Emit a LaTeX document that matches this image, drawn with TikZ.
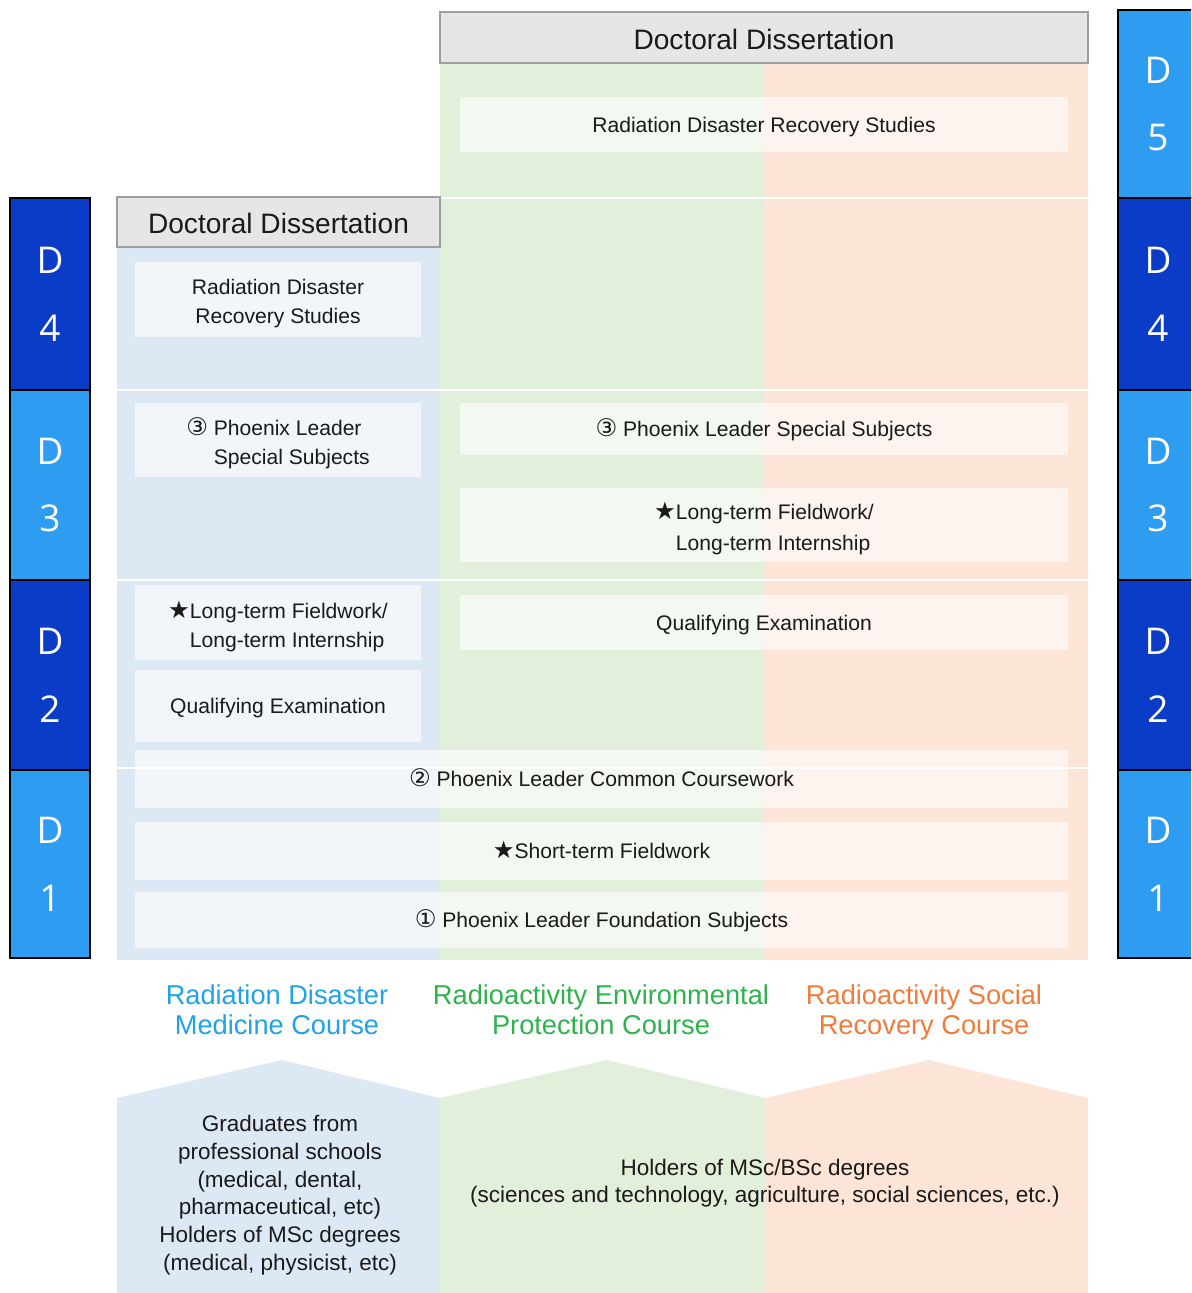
\documentclass[tikz,border=0pt]{standalone}
\usepackage{fontspec}
\setmainfont{Liberation Sans}
\newfontfamily\yearfont{Open Sans}
\newfontfamily\symfont[Scale=1.15]{DejaVu Sans}
\definecolor{colblue}{HTML}{DDE8F5}
\definecolor{colgreen}{HTML}{E2EFDA}
\definecolor{colorange}{HTML}{FCE4D6}
\definecolor{yearlight}{HTML}{2E9CF0}
\definecolor{yeardark}{HTML}{0B3CC8}
\definecolor{hdrfill}{HTML}{E6E6E6}
\definecolor{hdrline}{HTML}{9E9E9E}
\definecolor{txt}{HTML}{1A1A1A}
\definecolor{cblue}{HTML}{1FA2E6}
\definecolor{cgreen}{HTML}{2DB24C}
\definecolor{corange}{HTML}{F07B3A}
\newcommand{\cnA}{{\symfont ①}}
\newcommand{\cnB}{{\symfont ②}}
\newcommand{\cnC}{{\symfont ③}}
\newcommand{\bstar}{{\symfont ★}}
\begin{document}
\begin{tikzpicture}[x=0.02cm,y=-0.02cm,
    every node/.style={inner sep=0pt, text=txt},
    header/.style={fill=hdrfill, draw=hdrline, line width=0.7pt},
    hdrtext/.style={yshift=-3pt, font=\fontsize{16}{19}\selectfont, execute at begin node=\strut},
    box/.style={fill=white, fill opacity=0.62},
    boxtext/.style={text opacity=1, align=center, yshift=-1pt, font=\fontsize{12}{16.5}\selectfont,
        execute at begin node=\strut, execute at end node=\strut},
    boxtwo/.style={boxtext, yshift=-2.3pt},
    sepline/.style={draw=white, line width=0.8pt},
    yearbox/.style={draw=black, line width=0.6pt},
    yeartext/.style={text=white, align=center, font=\yearfont\fontsize{21}{38.6}\selectfont},
    course/.style={align=center, font=\fontsize{15.5}{17}\selectfont,
        execute at begin node=\strut, execute at end node=\strut},
    srctext/.style={align=center, font=\fontsize{12.8}{15.9}\selectfont,
        execute at begin node=\strut, execute at end node=\strut}]
    \clip (0,0) rectangle (1191,1293);
    % course columns
    \fill [colblue] (117,247) rectangle (440,960);
    \fill [colgreen] (440,63) rectangle (763,960);
    \fill [colorange] (763,63) rectangle (1088,960);
    \draw [sepline] (440,198) -- (1088,198);
    \foreach \y in {390,580,768}
        \draw [sepline] (117,\y) -- (1088,\y);
    \draw [header] (440,12) rectangle node [hdrtext] (dissR) {Doctoral Dissertation} (1088,63);
    \draw [header] (117,197) rectangle node [hdrtext] (dissL) {Doctoral Dissertation} (440,247);
    % subject boxes
    \fill [box] (460,97) rectangle node [boxtext] (rdrsR) {Radiation Disaster Recovery Studies} (1068,152);
    \fill [box] (135,262) rectangle node [boxtwo] (rdrsL) {Radiation Disaster\\Recovery Studies} (421,337);
    \fill [box] (135,403) rectangle node [boxtwo, align=left] (specL) {\cnC{} Phoenix Leader\\\hphantom{\cnC{}} Special Subjects} (421,477);
    \fill [box] (460,403) rectangle node [boxtext] (specR) {\cnC{} Phoenix Leader Special Subjects} (1068,455);
    \fill [box] (460,488) rectangle node [boxtwo, align=left, font=\fontsize{12}{18}\selectfont] (ltfR) {\bstar Long-term Fieldwork/\\\hphantom{\bstar}Long-term Internship} (1068,562);
    \fill [box] (135,585) rectangle node [boxtwo, align=left] (ltfL) {\bstar Long-term Fieldwork/\\\hphantom{\bstar}Long-term Internship} (421,660);
    \fill [box] (135,670) rectangle node [boxtext] (qualL) {Qualifying Examination} (421,742);
    \fill [box] (460,595) rectangle node [boxtext] (qualR) {Qualifying Examination} (1068,650);
    \fill [box] (135,750) rectangle node [boxtext] (common) {\cnB{} Phoenix Leader Common Coursework} (1068,808);
    \fill [box] (135,822) rectangle node [boxtext] (short) {\bstar Short-term Fieldwork} (1068,880);
    \fill [box] (135,892) rectangle node [boxtext] (found) {\cnA{} Phoenix Leader Foundation Subjects} (1068,948);
    % year scales
    \foreach \n/\ya/\yb/\c in {4/198/390/yeardark, 3/390/580/yearlight, 2/580/770/yeardark, 1/770/958/yearlight}
        \draw [yearbox, fill=\c] (10,\ya) rectangle node [yeartext] (yL\n) {D\\\n} (90,\yb);
    \foreach \n/\ya/\yb/\c in {5/10/198/yearlight, 4/198/390/yeardark, 3/390/580/yearlight, 2/580/770/yeardark, 1/770/958/yearlight}
        \draw [yearbox, fill=\c] (1118,\ya) rectangle node [yeartext] (yR\n) {D\\\n} (1198,\yb);
    % course names
    \node [course, text=cblue] (medC) at (277,1014) {Radiation Disaster\\Medicine Course};
    \node [course, text=cgreen] (envC) at (601,1014) {Radioactivity Environmental\\Protection Course};
    \node [course, text=corange] (socC) at (924,1014) {Radioactivity Social\\Recovery Course};
    % entry groups
    \fill [colblue] (117,1293) -- (117,1098) -- (282,1060) -- (440,1098) -- (440,1293) -- cycle;
    \fill [colgreen] (440,1293) -- (440,1098) -- (607,1060) -- (765,1098) -- (765,1293) -- cycle;
    \fill [colorange] (765,1293) -- (765,1098) -- (929,1060) -- (1088,1098) -- (1088,1293) -- cycle;
    \node [srctext] (srcL) at (280,1197) {Graduates from\\professional schools\\(medical, dental,\\pharmaceutical, etc)\\Holders of MSc degrees\\(medical, physicist, etc)};
    \node [srctext] (srcR) at (765,1185) {Holders of MSc/BSc degrees\\(sciences and technology, agriculture, social sciences, etc.)};
\end{tikzpicture}
\end{document}
